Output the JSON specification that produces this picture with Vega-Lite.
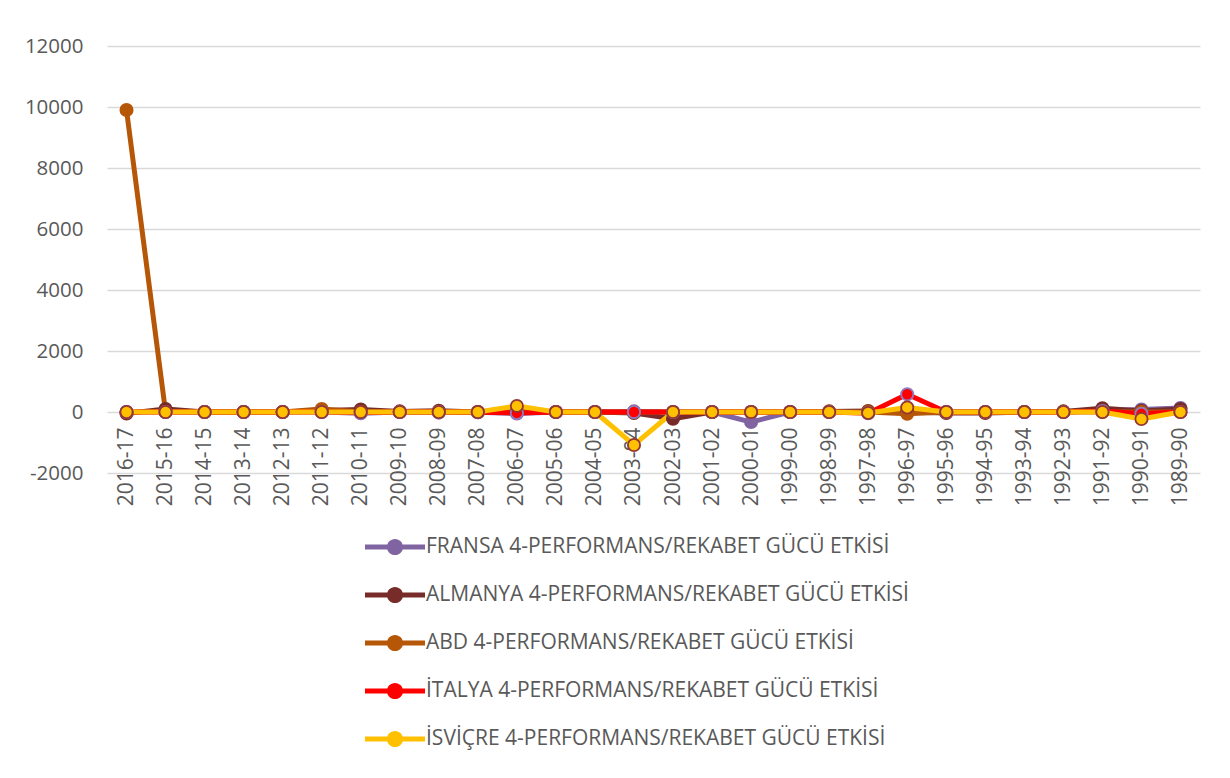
{
  "$schema": "https://vega.github.io/schema/vega-lite/v6.json",
  "autosize": "none",
  "width": 1093,
  "height": 427,
  "padding": {"left": 107, "top": 46, "right": 30, "bottom": 305},
  "background": "white",
  "config": {
    "view": {"stroke": null},
    "font": "Open Sans",
    "axis": {"labelColor": "#595959", "labelFont": "Open Sans", "labelFontSize": 20}
  },
  "data": {
    "values": [
      {"s": "2016-17", "FRANSA": 0, "ALMANYA": -50, "ABD": 9900, "İTALYA": 0, "İSVİÇRE": 0},
      {"s": "2015-16", "FRANSA": 0, "ALMANYA": 100, "ABD": 0, "İTALYA": 0, "İSVİÇRE": 0},
      {"s": "2014-15", "FRANSA": 0, "ALMANYA": 0, "ABD": 0, "İTALYA": 0, "İSVİÇRE": 0},
      {"s": "2013-14", "FRANSA": 0, "ALMANYA": 0, "ABD": 0, "İTALYA": 0, "İSVİÇRE": 0},
      {"s": "2012-13", "FRANSA": 0, "ALMANYA": 0, "ABD": 0, "İTALYA": 0, "İSVİÇRE": 0},
      {"s": "2011-12", "FRANSA": 0, "ALMANYA": 50, "ABD": 100, "İTALYA": 0, "İSVİÇRE": 0},
      {"s": "2010-11", "FRANSA": -40, "ALMANYA": 80, "ABD": 0, "İTALYA": -20, "İSVİÇRE": 0},
      {"s": "2009-10", "FRANSA": 0, "ALMANYA": 20, "ABD": 0, "İTALYA": 0, "İSVİÇRE": 0},
      {"s": "2008-09", "FRANSA": -20, "ALMANYA": 40, "ABD": 0, "İTALYA": 0, "İSVİÇRE": 0},
      {"s": "2007-08", "FRANSA": -10, "ALMANYA": 0, "ABD": 0, "İTALYA": -10, "İSVİÇRE": 0},
      {"s": "2006-07", "FRANSA": -50, "ALMANYA": 0, "ABD": 0, "İTALYA": -30, "İSVİÇRE": 200},
      {"s": "2005-06", "FRANSA": 0, "ALMANYA": 0, "ABD": 0, "İTALYA": 0, "İSVİÇRE": 0},
      {"s": "2004-05", "FRANSA": 0, "ALMANYA": 0, "ABD": 0, "İTALYA": 0, "İSVİÇRE": 0},
      {"s": "2003-04", "FRANSA": 20, "ALMANYA": -30, "ABD": 0, "İTALYA": 0, "İSVİÇRE": -1080},
      {"s": "2002-03", "FRANSA": 0, "ALMANYA": -220, "ABD": 0, "İTALYA": 0, "İSVİÇRE": 0},
      {"s": "2001-02", "FRANSA": 0, "ALMANYA": 0, "ABD": 0, "İTALYA": 0, "İSVİÇRE": 0},
      {"s": "2000-01", "FRANSA": -330, "ALMANYA": 0, "ABD": 0, "İTALYA": 0, "İSVİÇRE": 0},
      {"s": "1999-00", "FRANSA": 0, "ALMANYA": 0, "ABD": 0, "İTALYA": 0, "İSVİÇRE": 0},
      {"s": "1998-99", "FRANSA": 0, "ALMANYA": 20, "ABD": 0, "İTALYA": 0, "İSVİÇRE": 0},
      {"s": "1997-98", "FRANSA": 0, "ALMANYA": 30, "ABD": 0, "İTALYA": -40, "İSVİÇRE": -30},
      {"s": "1996-97", "FRANSA": 0, "ALMANYA": 0, "ABD": -60, "İTALYA": 580, "İSVİÇRE": 150},
      {"s": "1995-96", "FRANSA": 0, "ALMANYA": -30, "ABD": 0, "İTALYA": 0, "İSVİÇRE": 0},
      {"s": "1994-95", "FRANSA": 0, "ALMANYA": -30, "ABD": 0, "İTALYA": 0, "İSVİÇRE": 0},
      {"s": "1993-94", "FRANSA": 0, "ALMANYA": 0, "ABD": 0, "İTALYA": 0, "İSVİÇRE": 0},
      {"s": "1992-93", "FRANSA": 0, "ALMANYA": 20, "ABD": 0, "İTALYA": 0, "İSVİÇRE": 0},
      {"s": "1991-92", "FRANSA": 50, "ALMANYA": 120, "ABD": 0, "İTALYA": 30, "İSVİÇRE": 0},
      {"s": "1990-91", "FRANSA": 80, "ALMANYA": 30, "ABD": 0, "İTALYA": -60, "İSVİÇRE": -230},
      {"s": "1989-90", "FRANSA": 130, "ALMANYA": 100, "ABD": 0, "İTALYA": 0, "İSVİÇRE": 0}
    ]
  },
  "transform": [
    {"fold": ["FRANSA", "ALMANYA", "ABD", "İTALYA", "İSVİÇRE"], "as": ["country", "value"]}
  ],
  "encoding": {
    "x": {
      "field": "s", "type": "ordinal", "sort": null, "title": null,
      "scale": {"type": "point", "padding": 0.5},
      "axis": {"labelAngle": -90, "ticks": false, "domain": false, "labelPadding": -46, "grid": false, "labelFontSize": 21}
    },
    "y": {
      "field": "value", "type": "quantitative", "title": null,
      "scale": {"domain": [-2000, 12000], "nice": false, "zero": false},
      "axis": {"values": [-2000, 0, 2000, 4000, 6000, 8000, 10000, 12000], "ticks": false, "domain": false, "labelPadding": 24, "gridColor": "#d9d9d9", "gridWidth": 1.3, "format": "d", "labelExpr": "replace(datum.label, '−', '-')", "labelFontSize": 20.5}
    }
  },
  "layer": [
    {
      "mark": {"type": "line", "strokeWidth": 5, "strokeJoin": "round"},
      "encoding": {
        "color": {
          "field": "country", "type": "nominal",
          "scale": {"domain": ["FRANSA", "ALMANYA", "ABD", "İTALYA", "İSVİÇRE"], "range": ["#8064A2", "#772C2A", "#B65708", "#FF0000", "#FFC000"]},
          "legend": {
            "orient": "none", "legendX": 258, "legendY": 471, "title": null,
            "symbolType": "M-1,-0.085H1V0.085H-1Z M0.27,0A0.27,0.27 0 1 1 -0.27,0A0.27,0.27 0 1 1 0.27,0Z",
            "symbolSize": 3600, "symbolStrokeWidth": 0, "symbolOpacity": 1,
            "labelFont": "Open Sans", "labelFontSize": 21, "labelColor": "#595959", "labelLimit": 0,
            "labelOffset": 1, "rowPadding": 8,
            "labelExpr": "datum.label + ' 4-PERFORMANS/REKABET GÜCÜ ETKİSİ'",
            "encode": {"symbols": {"update": {"fill": {"scale": "color", "field": "value"}, "stroke": {"value": "transparent"}}}}
          }
        }
      }
    },
    {
      "mark": {"type": "point", "filled": true, "size": 150, "strokeWidth": 1.8, "opacity": 1},
      "encoding": {
        "color": {"field": "country", "type": "nominal", "legend": null},
        "stroke": {
          "field": "country", "type": "nominal", "legend": null,
          "scale": {"domain": ["FRANSA", "ALMANYA", "ABD", "İTALYA", "İSVİÇRE"], "range": ["#8064A2", "#772C2A", "#B65708", "#8E7CC3", "#943634"]}
        }
      }
    }
  ]
}
